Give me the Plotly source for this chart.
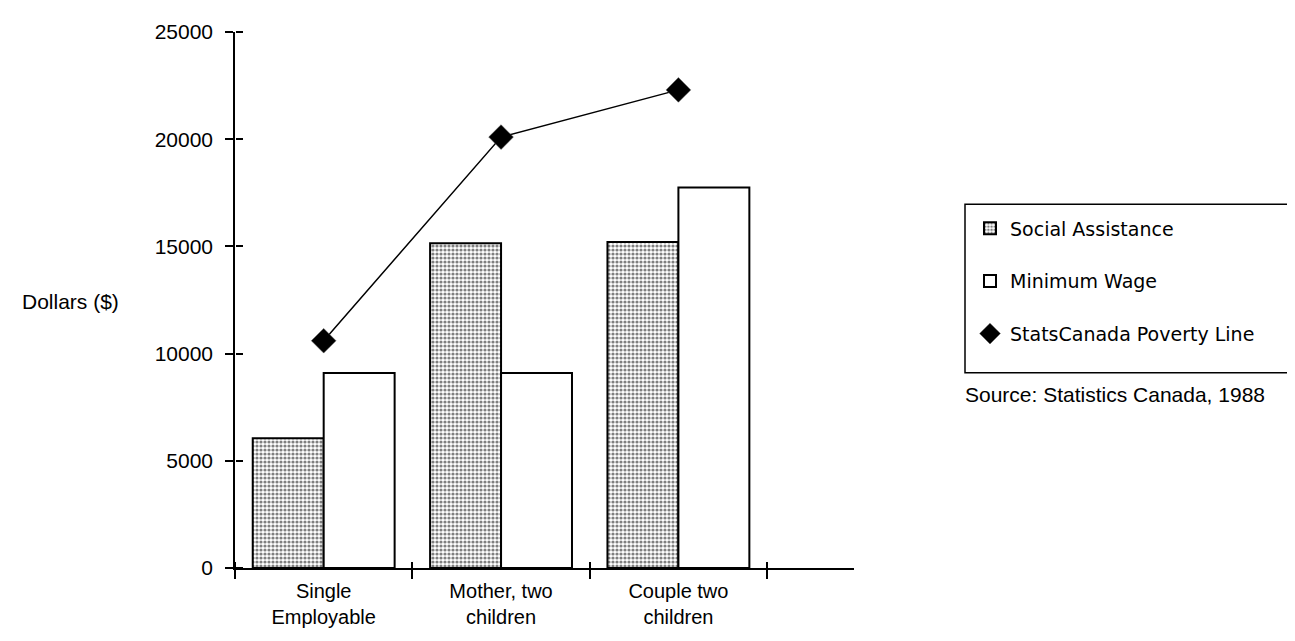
import plotly.graph_objects as go

categories = ["Single<br>Employable", "Mother, two<br>children", "Couple two<br>children"]
social_assistance = [6050, 15150, 15200]
minimum_wage = [9100, 9100, 17750]
poverty_line = [10600, 20100, 22300]
y_ticks = [0, 5000, 10000, 15000, 20000, 25000]
y_tick_text = ["0", "5000", "10000", "15000", "20000", "25000"]

AX_FONT = dict(family="Liberation Sans, Arial, sans-serif", size=21, color="black")
CAT_FONT = dict(family="Liberation Sans, Arial, sans-serif", size=20, color="black")
LEG_FONT = dict(family="DejaVu Sans, sans-serif", size=19, color="black")

fig = go.Figure()
fig.add_trace(go.Bar(
    x=categories, y=social_assistance, name="Social Assistance",
    legendgroup="a",
    marker=dict(color="white", line=dict(color="black", width=2),
                pattern=dict(shape=".", fgcolor="black", bgcolor="white",
                             size=4, solidity=0.5)),
))
fig.add_trace(go.Bar(
    x=categories, y=minimum_wage, name="Minimum Wage",
    legendgroup="b",
    marker=dict(color="white", line=dict(color="black", width=2)),
))
# poverty line on the overlay axes, which also draw the inner halves of the crossing ticks
fig.add_trace(go.Scatter(
    x=categories, y=poverty_line, mode="lines", showlegend=False,
    xaxis="x2", yaxis="y2",
    line=dict(color="black", width=1.5), hoverinfo="skip",
))
fig.add_trace(go.Scatter(
    x=categories, y=poverty_line, mode="markers", name="StatsCanada Poverty Line",
    legendgroup="c", xaxis="x2", yaxis="y2",
    marker=dict(symbol="diamond", size=19, color="black",
                line=dict(color="#555555", width=0.5)),
))

L, R, T, B = 227, 449, 22, 81
W, H = 1295, 641
pw, ph = W - L - R, H - T - B

def px_x(x):
    return (x - L) / pw

def px_y(y):
    return (H - B - y) / ph

common_x = dict(type="category", range=[-0.5, 2.99], tickson="boundaries",
                categoryorder="array", categoryarray=categories,
                tickwidth=1.5, tickcolor="black", showgrid=False,
                zeroline=False, fixedrange=True)
common_y = dict(range=[0, 25000], tickvals=y_ticks, tickwidth=1.5,
                tickcolor="black", showgrid=False, zeroline=False,
                fixedrange=True)

fig.update_layout(
    width=W, height=H,
    margin=dict(l=L, r=R, t=T, b=B, pad=0),
    paper_bgcolor="white", plot_bgcolor="white",
    barmode="group", bargap=0.2, bargroupgap=0,
    showlegend=True,
    legend=dict(x=px_x(962), y=px_y(200), xanchor="left", yanchor="top",
                font=LEG_FONT, bgcolor="rgba(0,0,0,0)", borderwidth=0,
                tracegroupgap=25, traceorder="grouped"),
    xaxis=dict(**common_x, ticks="outside", ticklen=9,
               showline=True, linecolor="black", linewidth=1.5,
               tickfont=CAT_FONT, ticklabelstandoff=4),
    yaxis=dict(**common_y, ticktext=y_tick_text, ticks="outside", ticklen=8,
               showline=True, linecolor="black", linewidth=1.5,
               tickfont=AX_FONT, ticklabelstandoff=8),
    # overlay axes sit on the same lines but face the other way, completing the "+" ticks
    xaxis2=dict(**common_x, ticks="outside", ticklen=6, anchor="free",
                position=0, overlaying="x", side="top",
                showticklabels=False, showline=False),
    yaxis2=dict(**common_y, ticks="outside", ticklen=7, anchor="free",
                position=0, overlaying="y", side="right",
                showticklabels=False, showline=False),
    annotations=[
        dict(text="Dollars ($)", x=px_x(113), y=px_y(293), xref="paper",
             yref="paper", xanchor="right", yanchor="middle",
             showarrow=False, font=AX_FONT),
        dict(text="Source: Statistics Canada, 1988", x=px_x(955),
             y=px_y(386), xref="paper", yref="paper", xanchor="left",
             yanchor="middle", showarrow=False, font=AX_FONT),
    ],
    shapes=[
        dict(type="rect", xref="paper", yref="paper",
             x0=px_x(957), x1=px_x(1291), y0=px_y(364), y1=px_y(195),
             line=dict(color="black", width=1.5), fillcolor="rgba(0,0,0,0)"),
    ],
)

fig.write_html("out.html")
